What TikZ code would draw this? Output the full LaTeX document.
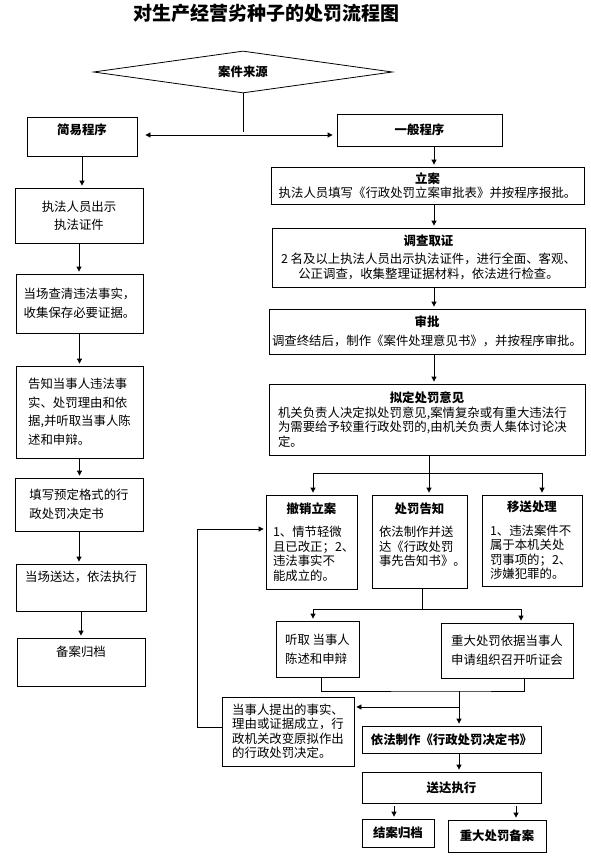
\documentclass[tikz,border=0pt]{standalone}
\usepackage{fontspec}
\setmainfont{Noto Sans CJK SC}
\usetikzlibrary{shapes.geometric,arrows.meta}

\begin{document}
\begin{tikzpicture}[x=1pt,y=-1pt,line width=0.8pt,
  font=\fontsize{12.4pt}{14.5pt}\selectfont,
  >={Triangle[length=5pt,width=5pt]},
  box/.style={rectangle,draw,inner sep=3pt},
  head/.style={box,font=\fontsize{12.4pt}{14.5pt}\selectfont\bfseries},
  flow/.style={->,shorten >=2pt}]
  \useasboundingbox (0,0) rectangle (590,856);

  \node[font=\fontsize{19pt}{22pt}\selectfont\bfseries] (title) at (266,13) {对生产经营劣种子的处罚流程图};

  \node[diamond,draw,aspect=7,inner sep=0pt,minimum width=299pt,minimum height=42pt,
        font=\fontsize{12.4pt}{14.5pt}\selectfont\bfseries] (source) at (243,72) {案件来源};

  \node[head,minimum width=110pt,minimum height=39pt,text depth=14pt] (simple) at (82,136.5) {简易程序};
  \node[head,minimum width=165pt,minimum height=32pt] (general) at (419.5,130) {一般程序};

  \node[box,align=center,minimum width=128pt,minimum height=55pt] (show) at (79,215.5) {执法人员出示\\[3.5pt]执法证件};
  \node[box,align=left,minimum width=127pt,minimum height=59pt] (check) at (79.5,303.5) {当场查清违法事实，\\[4.5pt]收集保存必要证据。};
  \node[box,align=left,minimum width=127pt,minimum height=92pt] (inform) at (79.5,412) {告知当事人违法事\\[4pt]实、处罚理由和依\\[4pt]据,并听取当事人陈\\[4pt]述和申辩。};
  \node[box,align=left,minimum width=128pt,minimum height=53pt] (form) at (79,504.5) {填写预定格式的行\\[4.5pt]政处罚决定书};
  \node[box,minimum width=130pt,minimum height=47pt,text depth=22pt] (serve) at (81,587.5) {当场送达，依法执行};
  \node[box,minimum width=128pt,minimum height=48pt,text depth=21pt] (archive) at (81,662) {备案归档};

  \node[box,align=center,minimum width=313pt,minimum height=37pt] (case) at (427.5,185.5) {
    \textbf{立案}\\
    执法人员填写《行政处罚立案审批表》并按程序报批。
  };
  \node[box,align=center,minimum width=313pt,minimum height=59pt] (survey) at (428.5,257.5) {
    \textbf{调查取证}\\[3.5pt]
    2 名及以上执法人员出示执法证件，进行全面、客观、\\
    公正调查，收集整理证据材料，依法进行检查。
  };
  \node[box,align=center,minimum width=316pt,minimum height=45pt] (approve) at (427,331.5) {
    \textbf{审批}\\[4.5pt]
    调查终结后，制作《案件处理意见书》，并按程序审批。
  };
  \node[box,align=left,text width=298pt,inner xsep=9pt,minimum height=71pt] (opinion) at (427,419.5) {
    \makebox[298pt]{\textbf{拟定处罚意见}}\\
    机关负责人决定拟处罚意见,案情复杂或有重大违法行\\
    为需要给予较重行政处罚的,由机关负责人集体讨论决\\
    定。
  };

  \node[box,align=left,text width=77pt,inner xsep=7pt,minimum height=94pt] (revoke) at (311.5,542) {
    \makebox[77pt]{\textbf{撤销立案}}\\[9pt]
    1、情节轻微\\
    且已改正；2、\\
    违法事实不\\
    能成立的。
  };
  \node[box,align=left,text width=81pt,inner xsep=7pt,minimum height=93pt] (notify) at (419.5,541.5) {
    \makebox[81pt]{\textbf{处罚告知}}\\[9pt]
    依法制作并送\\
    达《行政处罚\\
    事先告知书》。\\
    \mbox{}
  };
  \node[box,align=left,text width=84pt,inner xsep=8pt,minimum height=91pt] (transfer) at (532,540.5) {
    \makebox[84pt]{\textbf{移送处理}}\\[9pt]
    1、违法案件不\\
    属于本机关处\\
    罚事项的；2、\\
    涉嫌犯罪的。
  };

  \node[box,align=left,minimum width=83pt,minimum height=56pt] (hear) at (317.5,649) {听取 当事人\\[4.5pt]陈述和申辩};
  \node[box,align=center,minimum width=132pt,minimum height=55pt] (hearing) at (507,650.5) {重大处罚依据当事人\\[4.5pt]申请组织召开听证会};
  \node[box,align=left,minimum width=132pt,minimum height=69pt] (accept) at (288,731.5) {
    当事人提出的事实、\\
    理由或证据成立，行\\
    政机关改变原拟作出\\
    的行政处罚决定。
  };
  \node[head,minimum width=179pt,minimum height=27pt] (decide) at (451.5,739.5) {依法制作《行政处罚决定书》};
  \node[head,minimum width=179pt,minimum height=31pt] (deliver) at (451.5,787.5) {送达执行};
  \node[head,minimum width=72pt,minimum height=28pt] (close) at (398,833) {结案归档};
  \node[head,minimum width=98pt,minimum height=32pt] (record) at (497,836) {重大处罚备案};

  \coordinate (fork) at (243,135);
  \coordinate (spine) at (434,0);
  \coordinate (split) at (429,473);
  \coordinate (split2) at (422,609);
  \coordinate (merge) at (459,691);
  \coordinate (turn) at (459,707);
  \coordinate (loop) at (197,529);

  \draw (source.south) -- ([yshift=3pt]fork);
  \draw[<->,shorten <=8pt,shorten >=4pt] (simple.east |- fork) -- (general.west |- fork);

  \draw[flow] (simple.south) -- (simple.south |- show.north);
  \draw[flow] (show.south) -- (show.south |- check.north);
  \draw[flow] (check.south) -- (check.south |- inform.north);
  \draw[flow] (inform.south) -- (inform.south |- form.north);
  \draw[flow] (form.south) -- (form.south |- serve.north);
  \draw[flow] (serve.south) -- (serve.south |- archive.north);

  \draw[flow] (general.south -| spine) -- (case.north -| spine);
  \draw[flow] (case.south -| spine) -- (survey.north -| spine);
  \draw[flow] (survey.south -| spine) -- (approve.north -| spine);
  \draw[flow] (approve.south -| spine) -- (opinion.north -| spine);

  \draw (opinion.south -| split) -- (split);
  \draw[flow] (split) -- (split |- notify.north);
  \draw[flow] (split) -| ([xshift=1.5pt]revoke.north);
  \draw[flow] (split) -| ([xshift=10pt]transfer.north);

  \draw (notify.south -| split2) -- (split2);
  \draw[flow] (split2) -| ([xshift=-4.5pt]hear.north);
  \draw[flow] (split2) -| ([xshift=14pt]hearing.north);

  \draw ([xshift=3.5pt]hear.south) |- (merge) -| ([xshift=17pt]hearing.south);
  \draw[flow] (merge) -- (merge |- decide.north);
  \draw[flow] (turn) -- (accept.east |- turn);
  \draw[flow] ([yshift=4.5pt]accept.west) -| (loop) -- (revoke.west |- loop);

  \draw[flow] (merge |- decide.south) -- (merge |- deliver.north);
  \draw[flow,shorten <=3pt] ([xshift=-4pt]close.north |- deliver.south) -- ([xshift=-4pt]close.north);
  \draw[flow,shorten <=3pt] ([xshift=19pt]record.north |- deliver.south) -- ([xshift=19pt]record.north);
\end{tikzpicture}
\end{document}
